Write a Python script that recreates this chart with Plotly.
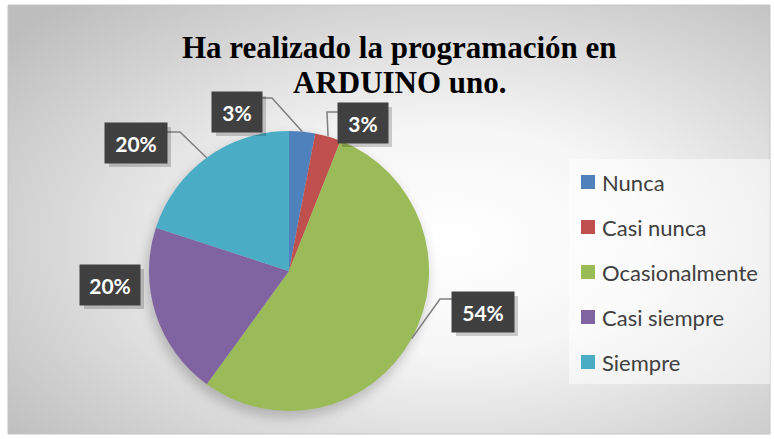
import math
import urllib.parse
import plotly.graph_objects as go

# ---- data ----
categories = ["Nunca", "Casi nunca", "Ocasionalmente", "Casi siempre", "Siempre"]
values = [3, 3, 54, 20, 20]
colors = ["#4F81BD", "#C0504D", "#9BBB59", "#8064A2", "#4BACC6"]
title_lines = ["Ha realizado la programación en", "ARDUINO uno."]

# ---- layout constants (pixels) ----
W, H = 774, 439
CX, CY, R = 289, 271, 140
# label box centers and leader elbows (style positions)
label_pos = [(237, 112), (363, 123), (483, 312), (110, 285), (136, 143)]
label_w = [50, 50, 62, 60, 62]
elbows = [[(272, 98), (262, 98)], [(327, 112), (339, 112)], [(440, 299), (452, 299)], None, [(180, 132), (167, 132)]]


def px(x):
    return x / W


def py(y):
    return 1 - y / H


fig = go.Figure()
fig.add_trace(go.Pie(
    labels=categories, values=values, sort=False, direction="clockwise", rotation=0,
    marker=dict(colors=colors, line=dict(width=0)),
    textinfo="none", hoverinfo="label+percent", showlegend=False,
    domain=dict(x=[px(CX - R), px(CX + R)], y=[py(CY + R), py(CY - R)]),
))

bg_svg = (
    "<svg xmlns='http://www.w3.org/2000/svg' width='762' height='429' viewBox='0 0 762 429'>"
    "<defs><radialGradient id='g' cx='58%' cy='55%' r='75%'>"
    "<stop offset='0' stop-color='#ffffff'/><stop offset='0.35' stop-color='#f6f6f6'/>"
    "<stop offset='1' stop-color='#bdbdbd'/></radialGradient>"
    "<filter id='b' x='-20%' y='-20%' width='140%' height='140%'><feGaussianBlur stdDeviation='6'/></filter></defs>"
    "<rect width='762' height='429' fill='url(#g)'/>"
    "<circle cx='279' cy='272' r='141' fill='rgba(0,0,0,0.2)' filter='url(#b)'/>"
    "</svg>"
)
bg_uri = "data:image/svg+xml;charset=utf-8," + urllib.parse.quote(bg_svg)

shapes = []
annotations = []

# chart frame
shapes.append(dict(type="rect", xref="paper", yref="paper", x0=px(8), x1=px(770), y0=py(434), y1=py(5),
                   line=dict(color="#c4c4c4", width=1), fillcolor="rgba(0,0,0,0)", layer="below"))

# legend box
shapes.append(dict(type="rect", xref="paper", yref="paper", x0=px(569), x1=px(770), y0=py(384), y1=py(159),
                   line=dict(width=0), fillcolor="rgba(255,255,255,0.5)", layer="below"))

# title lines
for i, t in enumerate(title_lines):
    annotations.append(dict(x=px(400), y=py(47 + 35 * i), xref="paper", yref="paper", text=f"<b>{t}</b>",
                            showarrow=False, xanchor="center", yanchor="middle",
                            font=dict(family="Liberation Serif", size=31, color="black")))

# data labels with leader lines
total = sum(values)
cum = 0
for i, (cat, v) in enumerate(zip(categories, values)):
    mid = (cum + v / 2) / total * 2 * math.pi
    cum += v
    ex, ey = CX + R * math.sin(mid), CY - R * math.cos(mid)
    if elbows[i] is not None:
        pts = [(ex, ey)] + elbows[i]
        path = "M " + " L ".join(f"{px(x)},{py(y)}" for x, y in pts)
        shapes.append(dict(type="path", xref="paper", yref="paper", path=path,
                           line=dict(color="#7f7f7f", width=1.5), layer="above"))
    lx, ly = label_pos[i]
    bw, bh = label_w[i], 40
    shapes.append(dict(type="rect", xref="paper", yref="paper",
                       x0=px(lx - bw / 2 + 4), x1=px(lx + bw / 2 + 4), y0=py(ly + bh / 2 + 4), y1=py(ly - bh / 2 + 4),
                       line=dict(width=0), fillcolor="rgba(0,0,0,0.18)", layer="above"))
    pct = round(v / total * 100)
    annotations.append(dict(x=px(lx), y=py(ly), xref="paper", yref="paper", text=f"<b>{pct}%</b>",
                            showarrow=False, xanchor="center", yanchor="middle",
                            width=bw - 2, height=bh - 2, borderpad=1, bgcolor="#404040",
                            font=dict(family="Lato", size=21, color="white")))

# legend
for i, (cat, c) in enumerate(zip(categories, colors)):
    yc = 182 + 45 * i
    shapes.append(dict(type="rect", xref="paper", yref="paper", x0=px(581), x1=px(595), y0=py(yc + 7), y1=py(yc - 7),
                       line=dict(width=0), fillcolor=c, layer="above"))
    annotations.append(dict(x=px(600), y=py(yc), xref="paper", yref="paper", text=cat, showarrow=False,
                            xanchor="left", yanchor="middle",
                            font=dict(family="Lato", size=22, color="#404040")))

fig.update_layout(
    width=W, height=H, autosize=False,
    margin=dict(l=0, r=0, t=0, b=0),
    paper_bgcolor="white", plot_bgcolor="white",
    images=[dict(source=bg_uri, xref="paper", yref="paper", x=px(8), y=py(5), sizex=px(762), sizey=429 / H,
                 xanchor="left", yanchor="top", sizing="stretch", layer="below")],
    shapes=shapes, annotations=annotations, showlegend=False,
)

fig.write_html("out.html", config={"displayModeBar": False},
               post_script="document.body.style.margin='0';")
